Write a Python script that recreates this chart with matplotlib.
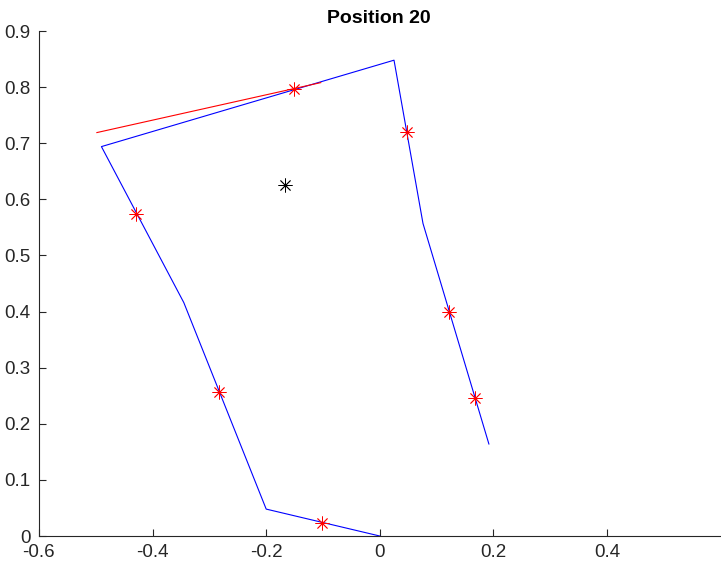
import matplotlib
matplotlib.use("Agg")
import matplotlib.pyplot as plt

# outline (blue polyline)
outline_x = [0.0, -0.200, -0.345, -0.490, 0.025, 0.076, 0.192]
outline_y = [0.0, 0.048, 0.416, 0.694, 0.848, 0.557, 0.164]

# sample points (red asterisks)
pts_x = [-0.151, 0.048, -0.430, -0.283, -0.102, 0.122, 0.168]
pts_y = [0.797, 0.720, 0.574, 0.256, 0.023, 0.399, 0.246]

# heading line (red)
head_x = [-0.498, -0.104]
head_y = [0.719, 0.808]

# centroid (black asterisk)
center_x = [-0.167]
center_y = [0.626]

TITLE = "Position 20"

plt.rcParams["font.family"] = ["Liberation Sans", "DejaVu Sans"]

fig = plt.figure(figsize=(7.21, 5.70), dpi=100)
ax = fig.add_axes([0.054, 0.0596, 0.944, 0.886])

ax.plot(outline_x, outline_y, color="#0000ff", lw=0.8)
ax.plot(head_x, head_y, color="#ff0000", lw=0.8)
ax.plot(pts_x, pts_y, linestyle="none", marker=(8, 2, 0), markersize=10,
        markeredgecolor="#ff0000", markeredgewidth=0.6)
ax.plot(center_x, center_y, linestyle="none", marker=(8, 2, 0), markersize=10,
        markeredgecolor="black", markeredgewidth=0.6)

ax.set_xlim(-0.6, 0.598)
ax.set_ylim(0, 0.9)
ax.set_xticks([-0.6, -0.4, -0.2, 0, 0.2, 0.4])
ax.set_xticklabels(["-0.6", "-0.4", "-0.2", "0", "0.2", "0.4"])
ax.set_yticks([0, 0.1, 0.2, 0.3, 0.4, 0.5, 0.6, 0.7, 0.8, 0.9])
ax.set_yticklabels(["0", "0.1", "0.2", "0.3", "0.4", "0.5", "0.6", "0.7", "0.8", "0.9"])

for side in ["top", "right"]:
    ax.spines[side].set_visible(False)
for side in ["left", "bottom"]:
    ax.spines[side].set_color("#262626")
    ax.spines[side].set_linewidth(0.8)
ax.tick_params(direction="in", length=5, width=0.8, colors="#262626",
               labelsize=13.5)
ax.tick_params(axis="x", pad=6)
ax.tick_params(axis="y", pad=6)

ax.set_title(TITLE, fontsize=14, fontweight="bold", pad=6)

fig.savefig("out.png", dpi=100)
